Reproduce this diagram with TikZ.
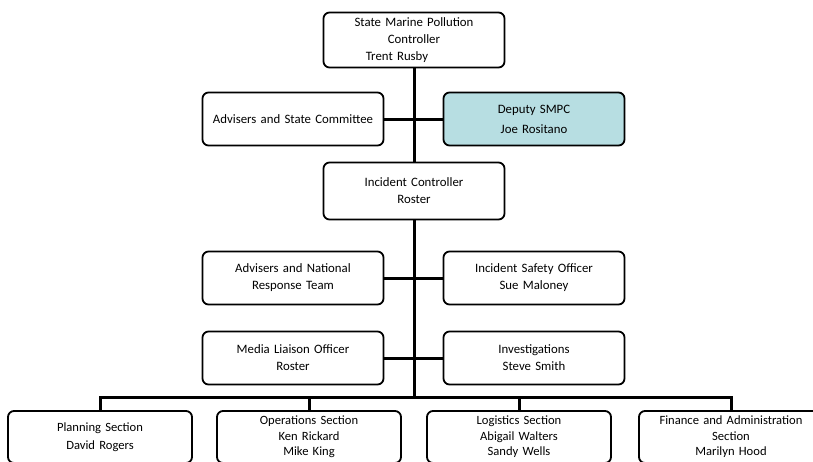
\documentclass[tikz,border=0pt]{standalone}
\usepackage{fontspec}
\setmainfont{Carlito}
\usepackage{tikz}
\usetikzlibrary{positioning}
\definecolor{deputyfill}{RGB}{183,222,226}
\tikzstyle{post} = [rectangle, draw, line width=1.8pt, fill=white, rounded corners=6pt, text width=178pt, align=center, minimum width=181pt, minimum height=53pt, inner sep=1pt, font=\fontsize{12.8}{17}\selectfont]
\tikzstyle{section} = [post, minimum width=184pt, text width=182pt, minimum height=52pt, font=\fontsize{12.6}{15.5}\selectfont]
\tikzstyle{line} = [draw, line width=3pt, color=black]

\begin{document}
\begin{tikzpicture}[x=1pt, y=-1pt]
		\useasboundingbox (0,0) rectangle (813,461);
		% Place nodes
		\node [post, minimum height=55pt] (smpc) at (414,40) {State Marine Pollution\\Controller\\\hspace*{-34pt}Trent Rusby};
		\node [post] (stateadv) at (293,119) {Advisers and State Committee};
		\node [post, fill=deputyfill] (deputy) at (534,119) {Deputy SMPC\\[3pt]Joe Rositano};
		\node [post, minimum height=57pt] (incident) at (414,191) {Incident Controller\\Roster};
		\node [post] (natadv) at (293,278) {Advisers and National\\Response Team};
		\node [post] (safety) at (534,278) {Incident Safety Officer\\Sue Maloney};
		\node [post] (media) at (293,358) {Media Liaison Officer\\Roster};
		\node [post] (invest) at (534,358) {Investigations\\Steve Smith};
		\node [section] (planning) at (100,437) {Planning Section\\[3pt]David Rogers};
		\node [section] (operations) at (309,437) {Operations Section\\Ken Rickard\\Mike King};
		\node [section] (logistics) at (519,437) {Logistics Section\\Abigail Walters\\Sandy Wells};
		\node [section] (finance) at (731,437) {Finance and Administration\\Section\\Marilyn Hood};
		\coordinate (bus) at (414,397);
		% Draw edges
		\path [line] (stateadv.east) -- (deputy.west);
		\path [line] (natadv.east) -- (safety.west);
		\path [line] (media.east) -- (invest.west);
		\path [line] (smpc.south) -- (incident.north);
		\path [line] (incident.south) -- (bus);
		\path [line] (planning.north) |- (bus) -| (finance.north);
		\path [line] (operations.north) -- (operations.north |- bus);
		\path [line] (logistics.north) -- (logistics.north |- bus);
	\end{tikzpicture}
\end{document}
